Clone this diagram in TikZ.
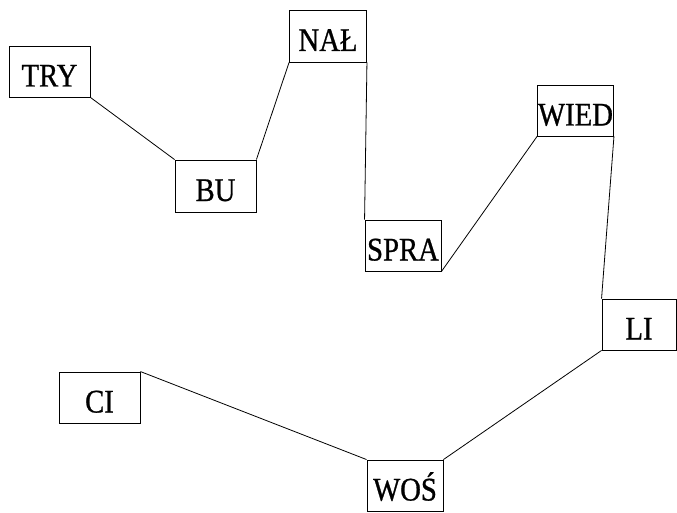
\documentclass[tikz,border=0pt]{standalone}
\usepackage{fontspec}
\setmainfont[FakeStretch=0.87, FakeBold=0.8]{Liberation Serif}

\tikzset{
    syllable/.style={draw, line width=0.9pt, inner sep=0pt, text height=30pt, text depth=0pt,
        font=\fontsize{33}{35}\selectfont},
    link/.style={line width=0.8pt}
}

\begin{document}
\begin{tikzpicture}[x=1pt, y=-1pt]
    \useasboundingbox (0,0) rectangle (677,513);

    % Syllable boxes
    \node[syllable, minimum width=81pt, minimum height=51pt] (try)  at (49.5,71.5) {TRY};
    \node[syllable, minimum width=81pt, minimum height=52pt] (bu)   at (215.5,186) {BU};
    \node[syllable, minimum width=77pt, minimum height=52pt] (nal)  at (328,36)    {NAŁ};
    \node[syllable, minimum width=76pt, minimum height=51pt] (spra) at (403,245.5) {SPRA};
    \node[syllable, minimum width=76pt, minimum height=51pt] (wied) at (575.5,110.5) {WIED};
    \node[syllable, minimum width=74pt, minimum height=51pt] (li)   at (639,324.5) {LI};
    \node[syllable, minimum width=81pt, minimum height=51pt] (ci)   at (99.5,397.5) {CI};
    \node[syllable, minimum width=76pt, minimum height=51pt] (wos)  at (405,485.5) {WOŚ};

    % Connecting lines
    \draw[link] (try.south east) -- (bu.north west);
    \draw[link] (bu.north east) -- (nal.south west);
    \draw[link] (nal.south east) -- (spra.north west);
    \draw[link] (spra.south east) -- (wied.south west);
    \draw[link] (wied.south east) -- (li.north west);
    \draw[link] (li.south west) -- (wos.north east);
    \draw[link] (ci.north east) -- (wos.north west);
\end{tikzpicture}
\end{document}
